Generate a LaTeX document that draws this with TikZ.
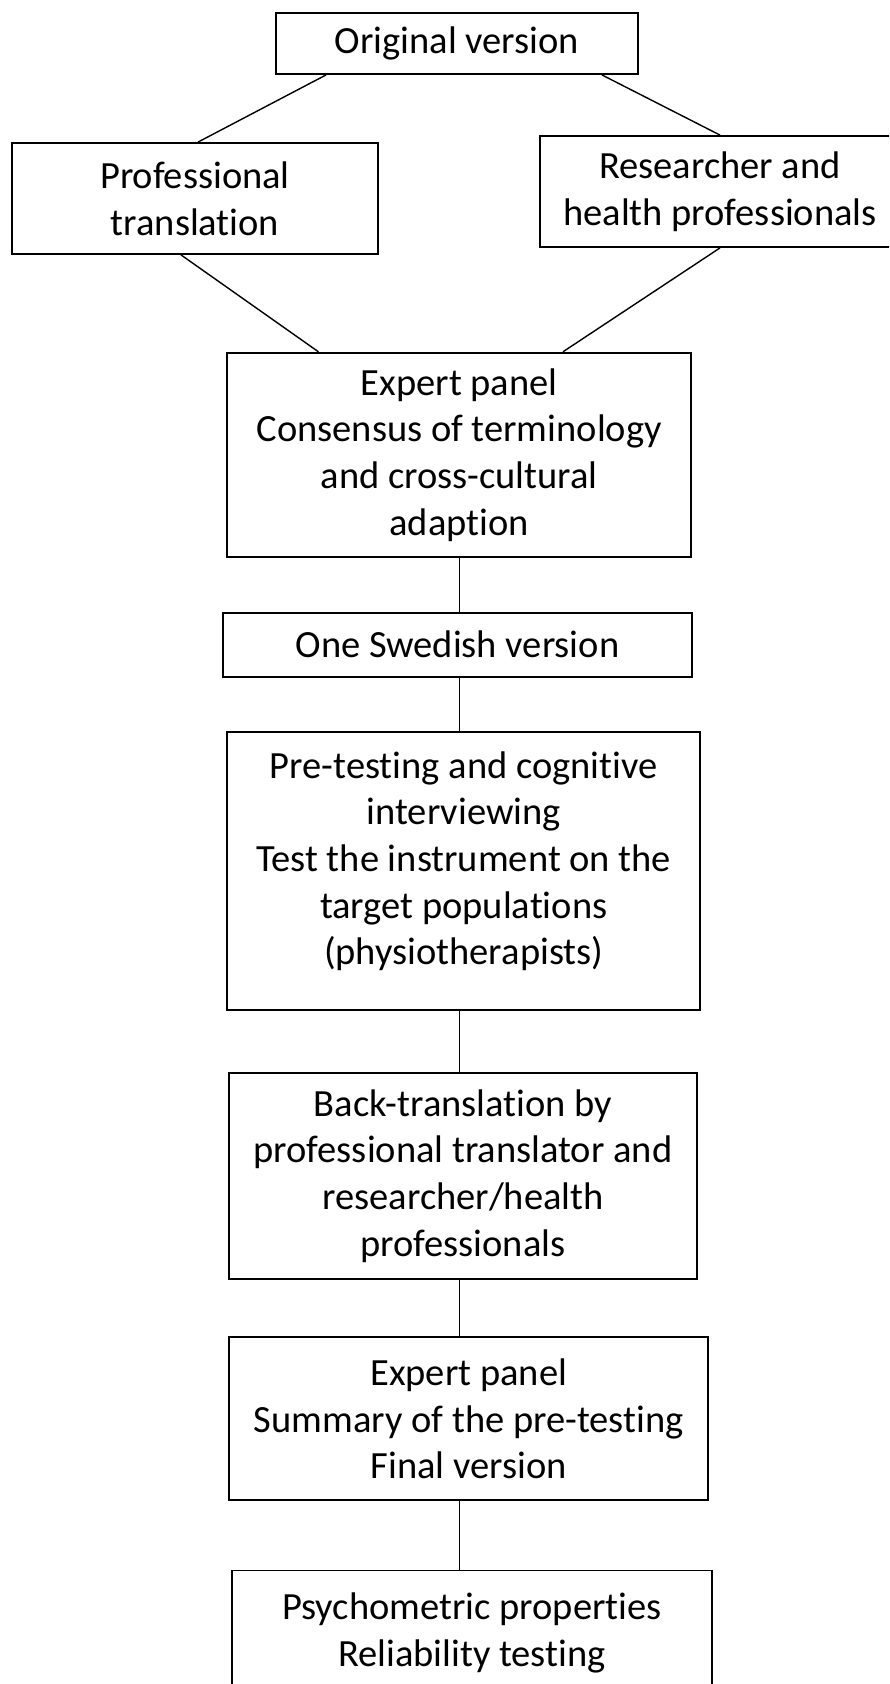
\documentclass[tikz,border=0pt]{standalone}
\usepackage{fontspec}
\setmainfont{Carlito}[Ligatures=NoCommon]
\begin{document}
\begin{tikzpicture}[x=1pt,y=-1pt,
  box/.style={draw, line width=1.8pt, rectangle, align=center, inner sep=0pt,
    font=\fontsize{38.5}{46.6}\selectfont},
  link/.style={line width=1.4pt}]
\clip (0,0) rectangle (889,1684);
\fill[white] (0,0) rectangle (889,1684);
\node[box, minimum width=362pt, minimum height=61pt] (orig) at (457,43.5) {Original version};
\node[box, minimum width=366pt, minimum height=111pt] (prof) at (195,198.5) {Professional\\translation};
\node[box, minimum width=360pt, minimum height=111pt] (res) at (720,191.5) {Researcher and\\health professionals};
\node[box, minimum width=463.7pt, minimum height=204.6pt] (exp1) at (459.2,455) {Expert panel\\Consensus of terminology\\and cross-cultural\\adaption};
\node[box, minimum width=469.3pt, minimum height=64pt] (swe) at (457.4,644.7) {One Swedish version};
\node[box, minimum width=472.7pt, minimum height=278pt] (pre) at (463.7,871) {Pre-testing and cognitive\\interviewing\\Test the instrument on the\\target populations\\(physiotherapists)\\[-21pt]};
\node[box, minimum width=467.4pt, minimum height=205.4pt] (back) at (463,1176) {Back-translation by\\professional translator and\\researcher/health\\professionals};
\node[box, minimum width=479.3pt, minimum height=163pt] (exp2) at (468.7,1418.8) {Expert panel\\Summary of the pre-testing\\Final version};
\node[box, minimum width=479.7pt, minimum height=125pt] (psy) at (471.9,1633) {Psychometric properties\\Reliability testing};
\draw[link] ([xshift=51pt]orig.south west) -- ([xshift=3pt]prof.north);
\draw[link] ([xshift=-37pt]orig.south east) -- (res.north);
\draw[link] ([xshift=-14pt]prof.south) -- ([xshift=92pt]exp1.north west);
\draw[link] (res.south) -- ([xshift=-129pt]exp1.north east);
\draw[link] (exp1.south) -- (exp1.south |- swe.north);
\draw[link] (swe.south -| exp1.south) -- (pre.north -| exp1.south);
\draw[link] (pre.south -| exp1.south) -- (back.north -| exp1.south);
\draw[link] (back.south -| exp1.south) -- (exp2.north -| exp1.south);
\draw[link] (exp2.south -| exp1.south) -- (psy.north -| exp1.south);
\end{tikzpicture}
\end{document}
